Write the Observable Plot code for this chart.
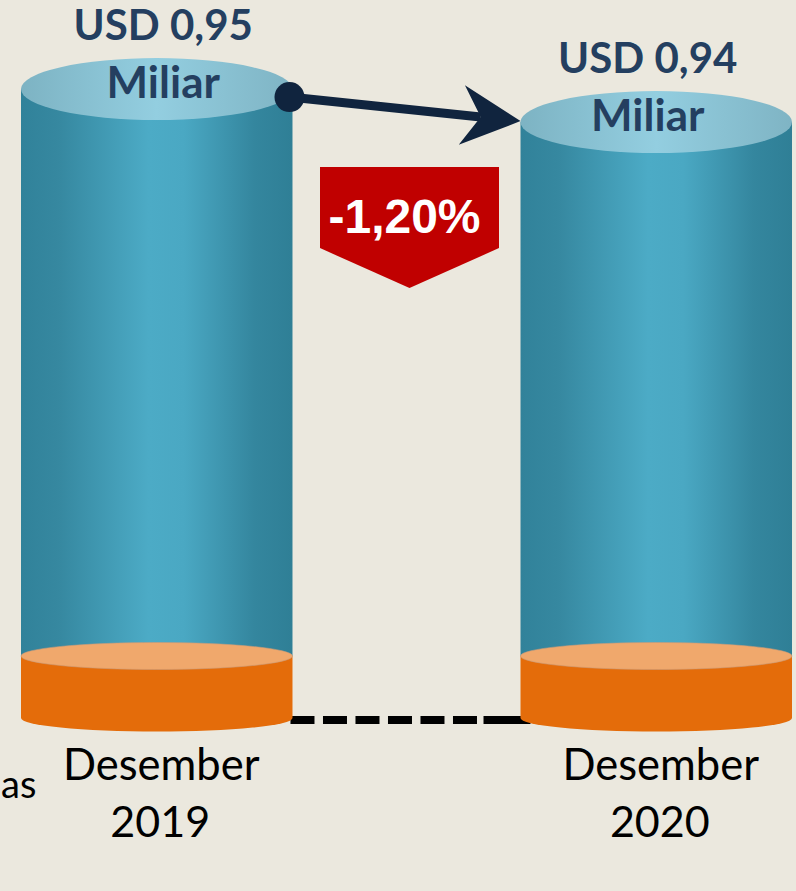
<!DOCTYPE html>
<html>
<head>
<meta charset="utf-8">
<script src="https://cdn.jsdelivr.net/npm/d3@7"></script>
<script src="https://cdn.jsdelivr.net/npm/@observablehq/plot@0.6"></script>
<style>
  html, body { margin: 0; padding: 0; background: #ebe8de; }
  #chart { width: 796px; height: 891px; overflow: hidden; }
</style>
</head>
<body>
<div id="chart"></div>
<script>
// ---- data ----
const categories = ["Desember 2019", "Desember 2020"];
const monthLabel = "Desember";
const yearLabels = ["2019", "2020"];
const values = [0.95, 0.94];
const valueLabels = ["USD 0,95", "USD 0,94"];
const unitLabel = "Miliar";
const changeLabel = "-1,20%";
const sideLabel = "as";

const data = categories.map((c, i) => ({cat: c, value: values[i], label: valueLabels[i], year: yearLabels[i]}));
const yDomain = [0.7594, 0.977];

const labelColor = "#243f60";

function getBandwidth(x) {
  if (typeof x.bandwidth === "function") return x.bandwidth();
  if (typeof x.bandwidth === "number") return x.bandwidth;
  return d3.scaleBand().domain(categories).range([21, 792]).paddingInner(0.4565).paddingOuter(0).bandwidth();
}

function cylinders(index, scales) {
  const x = scales.x, y = scales.y;
  const bw = getBandwidth(x);
  const base = y(yDomain[0]);
  const g = d3.create("svg:g");
  const defs = g.append("defs");

  const bodyGrad = defs.append("linearGradient").attr("id", "bodyGrad").attr("x1", "0").attr("x2", "1").attr("y1", "0").attr("y2", "0");
  [[0, "#31829a"], [0.14, "#3688a0"], [0.47, "#4cabc6"], [0.6, "#4aa8c3"], [0.86, "#34869e"], [1, "#2f7f96"]]
    .forEach(([o, c]) => bodyGrad.append("stop").attr("offset", o).attr("stop-color", c));
  const topGrad = defs.append("linearGradient").attr("id", "topGrad").attr("x1", "0").attr("x2", "1").attr("y1", "0").attr("y2", "0");
  [[0, "#7db3c3"], [0.5, "#93cee0"], [1, "#7fb4c4"]]
    .forEach(([o, c]) => topGrad.append("stop").attr("offset", o).attr("stop-color", c));

  // dashed base line
  const x1r = x(categories[0]) + bw, x2l = x(categories[1]);
  g.append("line")
    .attr("x1", x1r - 2).attr("x2", x2l).attr("y1", base + 2).attr("y2", base + 2)
    .attr("stroke", "#000").attr("stroke-width", 8).attr("stroke-dasharray", "24,8.5");
  g.append("line")
    .attr("x1", x2l - 37).attr("x2", x2l + 10).attr("y1", base + 2).attr("y2", base + 2)
    .attr("stroke", "#000").attr("stroke-width", 8);

  // cylinders
  data.forEach(d => {
    const x0 = x(d.cat), rx = bw / 2, cx = x0 + rx;
    const top = y(d.value);
    const orangeTop = base - 62;
    const ry = 31, ryB = 13.5;
    g.append("rect").attr("x", x0).attr("y", top).attr("width", bw).attr("height", orangeTop - top).attr("fill", "url(#bodyGrad)");
    g.append("path")
      .attr("d", `M${x0},${orangeTop}V${base}A${rx},${ryB} 0 0 0 ${x0 + bw},${base}V${orangeTop}Z`)
      .attr("fill", "#e46c0a");
    g.append("ellipse").attr("cx", cx).attr("cy", orangeTop).attr("rx", rx).attr("ry", ryB)
      .attr("fill", "#f0a86c").attr("stroke", "#c99a78").attr("stroke-width", 0.6);
    g.append("ellipse").attr("cx", cx).attr("cy", top).attr("rx", rx).attr("ry", ry).attr("fill", "url(#topGrad)");
  });

  // arrow from first to second
  const sx = x1r - 3, sy = y(values[0]) + 8;
  const ex = x2l, ey = y(values[1]) - 1;
  const ang = Math.atan2(ey - sy, ex - sx);
  const arrow = g.append("g").attr("fill", "#10243e").attr("stroke", "none");
  const nx = ex - 40 * Math.cos(ang), ny = ey - 40 * Math.sin(ang);
  arrow.append("line").attr("x1", sx).attr("y1", sy).attr("x2", nx).attr("y2", ny)
    .attr("stroke", "#10243e").attr("stroke-width", 9);
  arrow.append("circle").attr("cx", sx).attr("cy", sy).attr("r", 15);
  const head = arrow.append("g").attr("transform", `translate(${ex},${ey}) rotate(${ang * 180 / Math.PI})`);
  head.append("path").attr("d", "M0,0L-59,-30L-40,0L-59,30Z");

  // change badge
  const bx = (x1r + x2l) / 2 + 3, bt = y(values[1]) + 45;
  const hw = 89.5;
  g.append("path")
    .attr("d", `M${bx - hw},${bt}H${bx + hw}V${bt + 81}L${bx},${bt + 121}L${bx - hw},${bt + 81}Z`)
    .attr("fill", "#c00000");
  g.append("text").attr("x", bx - 5).attr("y", bt + 66)
    .attr("text-anchor", "middle").attr("fill", "#fff")
    .attr("font-family", "Liberation Sans, Arial, sans-serif").attr("font-weight", "bold").attr("font-size", 48)
    .text(changeLabel);

  // side label at the left edge (kept fully visible)
  g.append("text").attr("x", 1).attr("y", base + 80).attr("text-anchor", "start")
    .attr("font-family", "Lato, sans-serif").attr("font-size", 38).attr("fill", "#000").text(sideLabel);
  return g.node();
}

const labelOffsets = [6, -9];
const chart = Plot.plot({
  width: 796,
  height: 891,
  marginTop: 0,
  marginLeft: 0,
  marginRight: 0,
  marginBottom: 173,
  style: {background: "#ebe8de", fontFamily: "Lato, sans-serif", overflow: "hidden"},
  x: {type: "band", domain: categories, range: [21, 792], paddingInner: 0.4565, paddingOuter: 0, round: false, axis: null},
  y: {domain: yDomain, axis: null},
  marks: [
    cylinders,
    ...data.map((d, i) => Plot.text([d], {
      x: "cat", y: "value", text: "label", dx: labelOffsets[i], dy: -50,
      lineAnchor: "bottom", fontSize: 42, fontWeight: "bold", fill: labelColor
    })),
    ...data.map((d, i) => Plot.text([d], {
      x: "cat", y: "value", text: () => unitLabel, dx: labelOffsets[i], dy: 8,
      lineAnchor: "bottom", fontSize: 44, fontWeight: "bold", fill: labelColor
    })),
    Plot.text(data, {
      x: "cat", y: () => yDomain[0], text: () => monthLabel, dx: 4, dy: 61,
      lineAnchor: "bottom", fontSize: 43.5, fill: "#000"
    }),
    Plot.text(data, {
      x: "cat", y: () => yDomain[0], text: "year", dx: 3, dy: 118,
      lineAnchor: "bottom", fontSize: 43, fill: "#000"
    })
  ]
});
document.getElementById("chart").appendChild(chart);
</script>
</body>
</html>
